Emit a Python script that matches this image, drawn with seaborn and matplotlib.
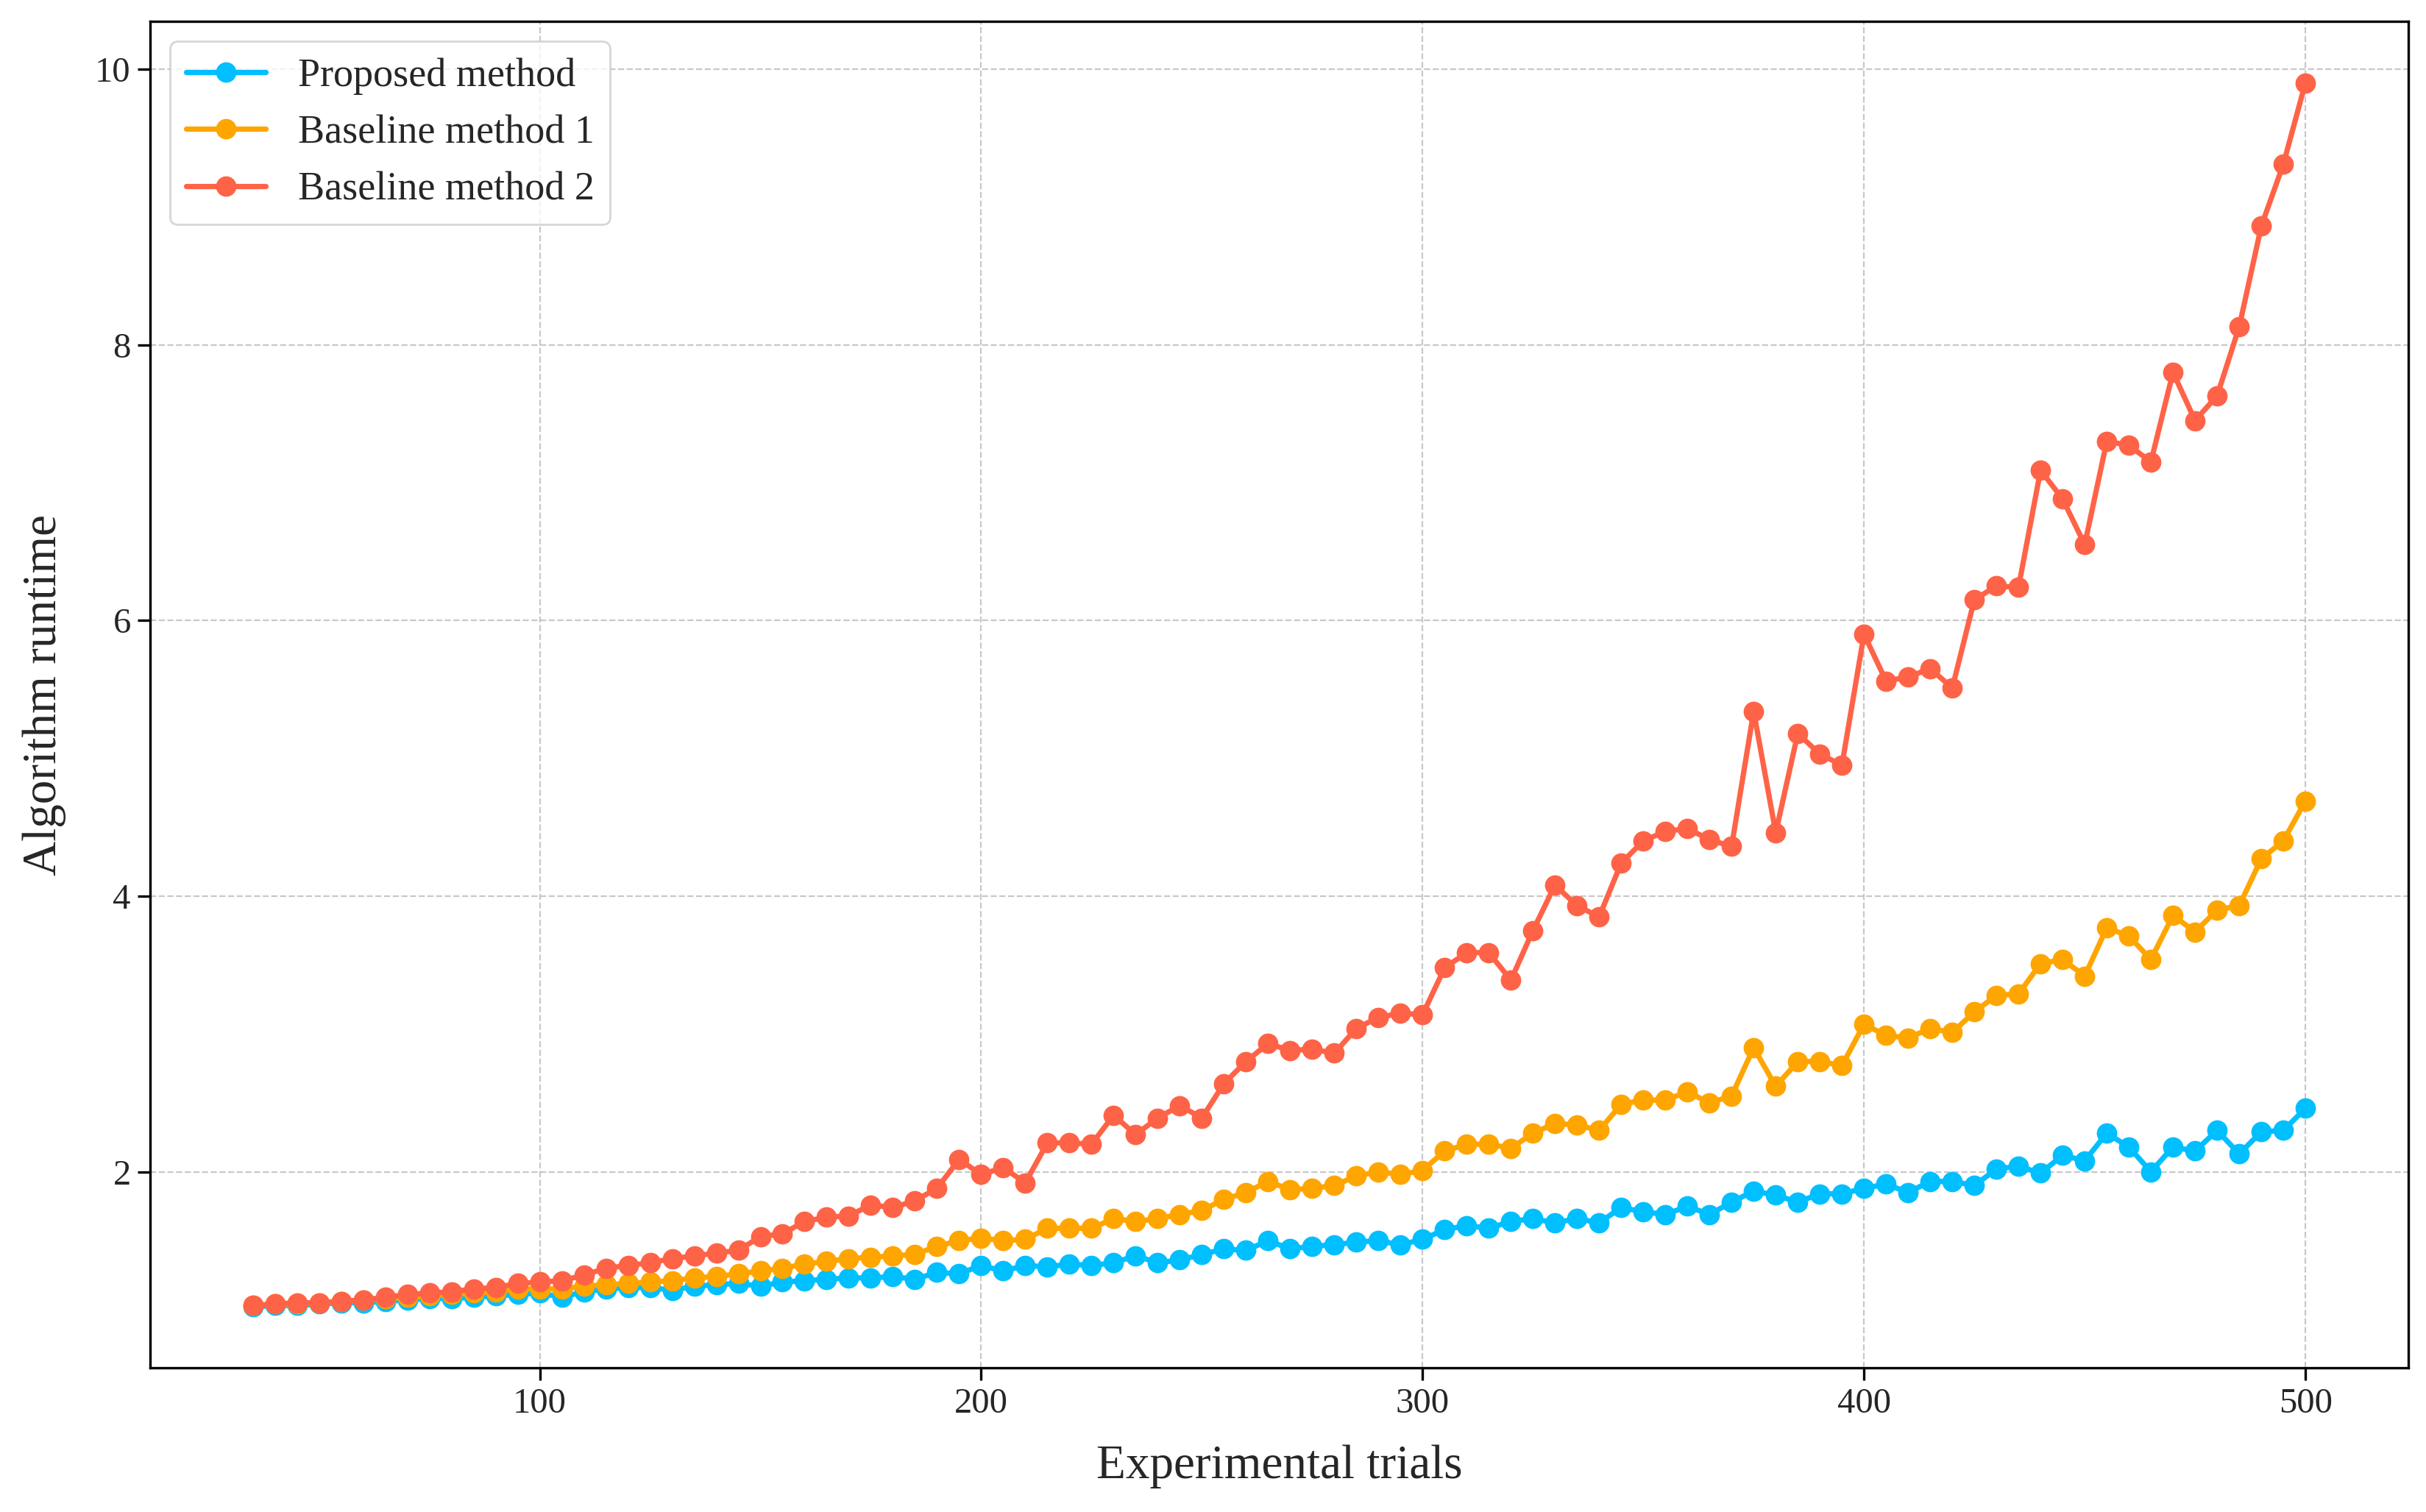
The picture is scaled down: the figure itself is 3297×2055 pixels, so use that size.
import numpy as np
import pandas as pd
import matplotlib
matplotlib.use("Agg")
import matplotlib.pyplot as plt
import seaborn as sns

# données (x de 35 à 500 par pas de 5)
trials = list(range(35, 505, 5))

proposed = [1.02, 1.03, 1.03, 1.04, 1.05, 1.05, 1.06, 1.07, 1.08, 1.08,
            1.09, 1.10, 1.11, 1.12, 1.09, 1.13, 1.15, 1.16, 1.16, 1.14,
            1.17, 1.18, 1.19, 1.17, 1.20, 1.21, 1.22, 1.23, 1.23, 1.24,
            1.22, 1.27, 1.26, 1.32, 1.28, 1.32, 1.31, 1.33, 1.32, 1.34,
            1.39, 1.34, 1.36, 1.40, 1.44, 1.43, 1.50, 1.44, 1.46, 1.47,
            1.49, 1.50, 1.47, 1.51, 1.58, 1.61, 1.59, 1.64, 1.66, 1.63,
            1.66, 1.63, 1.74, 1.71, 1.69, 1.75, 1.69, 1.78, 1.86, 1.83,
            1.78, 1.84, 1.84, 1.88, 1.91, 1.85, 1.93, 1.93, 1.90, 2.02,
            2.04, 1.99, 2.12, 2.08, 2.28, 2.18, 2.00, 2.18, 2.15, 2.30,
            2.13, 2.29, 2.30, 2.46]

baseline1 = [1.03, 1.04, 1.04, 1.05, 1.06, 1.07, 1.08, 1.09, 1.10, 1.11,
             1.12, 1.13, 1.15, 1.15, 1.15, 1.17, 1.18, 1.19, 1.20, 1.21,
             1.23, 1.24, 1.26, 1.28, 1.30, 1.33, 1.35, 1.37, 1.38, 1.39,
             1.40, 1.46, 1.50, 1.52, 1.50, 1.51, 1.59, 1.59, 1.59, 1.66,
             1.64, 1.66, 1.69, 1.72, 1.80, 1.85, 1.93, 1.87, 1.88, 1.90,
             1.97, 2.00, 1.98, 2.01, 2.15, 2.20, 2.20, 2.17, 2.28, 2.35,
             2.34, 2.30, 2.49, 2.52, 2.52, 2.58, 2.50, 2.55, 2.90, 2.62,
             2.80, 2.80, 2.77, 3.07, 2.99, 2.97, 3.04, 3.01, 3.16, 3.28,
             3.29, 3.51, 3.54, 3.42, 3.77, 3.71, 3.54, 3.86, 3.74, 3.90,
             3.93, 4.27, 4.40, 4.69]

baseline2 = [1.03, 1.04, 1.05, 1.05, 1.06, 1.07, 1.09, 1.11, 1.12, 1.13,
             1.15, 1.16, 1.19, 1.20, 1.21, 1.25, 1.30, 1.32, 1.34, 1.37,
             1.39, 1.41, 1.43, 1.53, 1.55, 1.64, 1.67, 1.68, 1.76, 1.74,
             1.79, 1.88, 2.09, 1.98, 2.03, 1.92, 2.21, 2.21, 2.20, 2.41,
             2.27, 2.39, 2.48, 2.39, 2.64, 2.80, 2.93, 2.88, 2.89, 2.86,
             3.04, 3.12, 3.15, 3.14, 3.48, 3.59, 3.59, 3.39, 3.75, 4.08,
             3.93, 3.85, 4.24, 4.40, 4.47, 4.49, 4.41, 4.36, 5.34, 4.46,
             5.18, 5.03, 4.95, 5.90, 5.56, 5.59, 5.65, 5.51, 6.15, 6.25,
             6.24, 7.09, 6.88, 6.55, 7.30, 7.27, 7.15, 7.80, 7.45, 7.63,
             8.13, 8.86, 9.31, 9.90]

series = [
    ("Proposed method", proposed, "#00BFFF"),
    ("Baseline method 1", baseline1, "#FFA500"),
    ("Baseline method 2", baseline2, "#FF6347"),
]

sns.set_style("ticks")
plt.rcParams['font.family'] = ['Liberation Serif', 'DejaVu Serif']
plt.rcParams['axes.linewidth'] = 1.2

fig = plt.figure(figsize=(16.49, 10.275), dpi=200)
ax = fig.add_axes([0.0619, 0.0952, 0.9304, 0.8905])

for name, vals, col in series:
    sns.lineplot(x=trials, y=vals, ax=ax, color=col, label=name,
                 marker="o", markersize=10, markeredgewidth=0, linewidth=2.6)

ax.grid(True, linestyle="--", color="#bbbbbb", linewidth=0.8, alpha=0.8)
ax.set_axisbelow(True)
for s in ax.spines.values():
    s.set_color("black")
    s.set_linewidth(1.2)

ax.set_yticks([2, 4, 6, 8, 10])
ax.set_xticks([100, 200, 300, 400, 500])
ax.tick_params(axis="both", labelsize=17.5, length=6, width=1.2, color="black")

ax.set_xlabel("Experimental trials", fontsize=23.5, labelpad=12)
ax.set_ylabel("Algorithm runtime", fontsize=23.5, labelpad=14)

ax.legend(loc="upper left", fontsize=19.5, frameon=True)

fig.savefig("out.png", dpi=200)
